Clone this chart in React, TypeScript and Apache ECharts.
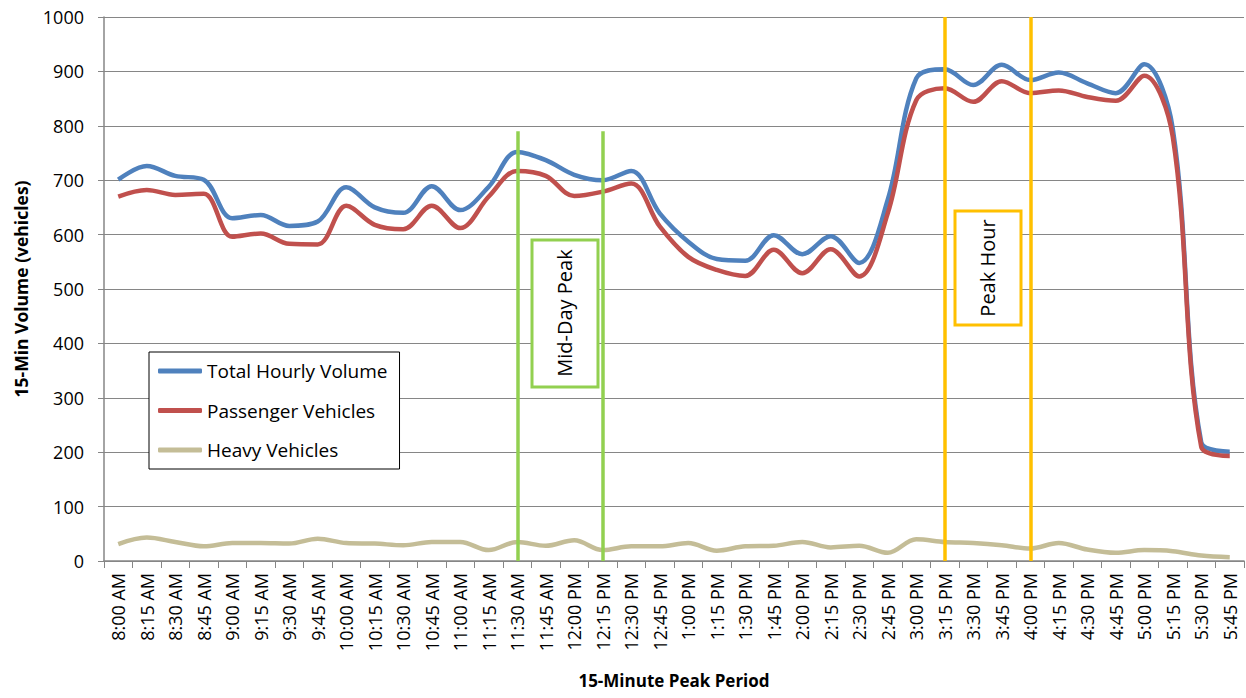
import React, { useEffect, useRef } from "react";
import * as echarts from "echarts";

const categories = [
  "8:00 AM", "8:15 AM", "8:30 AM", "8:45 AM", "9:00 AM", "9:15 AM", "9:30 AM", "9:45 AM",
  "10:00 AM", "10:15 AM", "10:30 AM", "10:45 AM", "11:00 AM", "11:15 AM", "11:30 AM", "11:45 AM",
  "12:00 PM", "12:15 PM", "12:30 PM", "12:45 PM", "1:00 PM", "1:15 PM", "1:30 PM", "1:45 PM",
  "2:00 PM", "2:15 PM", "2:30 PM", "2:45 PM", "3:00 PM", "3:15 PM", "3:30 PM", "3:45 PM",
  "4:00 PM", "4:15 PM", "4:30 PM", "4:45 PM", "5:00 PM", "5:15 PM", "5:30 PM", "5:45 PM",
];

const totalVolume = [
  701, 726, 708, 701, 630, 636, 616, 624, 687, 650, 640, 689, 645, 688, 752, 737,
  710, 700, 717, 639, 587, 555, 552, 599, 564, 597, 548, 664, 887, 904, 875, 912,
  884, 898, 878, 860, 913, 795, 218, 201,
];

const passengerVehicles = [
  670, 682, 673, 675, 596, 602, 583, 582, 653, 618, 610, 653, 612, 670, 717, 708,
  671, 679, 694, 615, 559, 535, 524, 572, 529, 573, 523, 639, 847, 869, 844, 882,
  860, 865, 853, 846, 892, 780, 210, 193,
];

const heavyVehicles = [
  31, 43, 35, 27, 33, 33, 32, 41, 33, 32, 29, 35, 35, 20, 35, 28,
  38, 20, 27, 27, 33, 19, 27, 28, 35, 25, 28, 15, 40, 35, 33, 29,
  23, 33, 21, 15, 20, 18, 10, 7,
];

const midDayPeak = ["11:30 AM", "12:15 PM"];
const peakHour = ["3:15 PM", "4:00 PM"];
const midDayTop = 790;
const peakHourTop = 1000;

const FONT = "'Open Sans', sans-serif";
const GRID = "#868686";
const GREEN = "#92D050";
const YELLOW = "#FFC000";
const SMOOTH = 0.35;

export default function App() {
  const ref = useRef<HTMLDivElement>(null);

  useEffect(() => {
    if (!ref.current) return;
    const chart = echarts.init(ref.current, null, { renderer: "svg" });

    const vLine = (cat: string, top: number, color: string) => [
      { coord: [cat, top], lineStyle: { color, width: 3.5, type: "solid" } },
      { coord: [cat, 0] },
    ];

    chart.setOption({
      animation: false,
      backgroundColor: "#ffffff",
      textStyle: { fontFamily: FONT },
      grid: { left: 104, right: 2, top: 17, bottom: 137, containLabel: false },
      legend: {
        orient: "vertical",
        left: 149,
        top: 352,
        padding: [9, 12, 9, 9],
        icon: "roundRect",
        itemWidth: 44,
        itemHeight: 5,
        itemGap: 19.5,
        backgroundColor: "#ffffff",
        borderColor: "#000000",
        borderWidth: 1,
        borderRadius: 0,
        textStyle: { fontFamily: FONT, fontSize: 19, color: "#000", lineHeight: 20 },
        data: ["Total Hourly Volume", "Passenger Vehicles", "Heavy Vehicles"],
      },
      xAxis: {
        type: "category",
        data: categories,
        boundaryGap: true,
        name: "15-Minute Peak Period",
        nameLocation: "middle",
        nameGap: 111,
        nameTextStyle: { fontFamily: FONT, fontSize: 17, fontWeight: "bold", color: "#000" },
        axisLine: { lineStyle: { color: GRID, width: 1.5 } },
        axisTick: { show: true, interval: 0, length: 7, lineStyle: { color: GRID } },
        axisLabel: {
          interval: 0,
          rotate: 90,
          margin: 12,
          fontFamily: FONT,
          fontSize: 18,
          color: "#000",
        },
        splitLine: { show: false },
      },
      yAxis: {
        type: "value",
        min: 0,
        max: 1000,
        interval: 100,
        name: "15-Min Volume (vehicles)",
        nameLocation: "middle",
        nameGap: 74,
        nameRotate: 90,
        nameTextStyle: { fontFamily: FONT, fontSize: 17.5, fontWeight: "bold", color: "#000" },
        axisLine: { show: true, lineStyle: { color: GRID, width: 1.5 } },
        axisTick: { show: true, length: 6, lineStyle: { color: GRID } },
        axisLabel: {
          margin: 20,
          fontFamily: FONT,
          fontSize: 18,
          color: "#000",
          formatter: (v: number) => String(v),
        },
        splitLine: { show: true, lineStyle: { color: GRID, width: 1 } },
      },
      series: [
        {
          name: "Total Hourly Volume",
          type: "line",
          data: totalVolume,
          smooth: SMOOTH,
          symbol: "none",
          lineStyle: { color: "#4F81BD", width: 4.5 },
          itemStyle: { color: "#4F81BD" },
        },
        {
          name: "Passenger Vehicles",
          type: "line",
          data: passengerVehicles,
          smooth: SMOOTH,
          symbol: "none",
          lineStyle: { color: "#C0504D", width: 4.5 },
          itemStyle: { color: "#C0504D" },
        },
        {
          name: "Heavy Vehicles",
          type: "line",
          data: heavyVehicles,
          smooth: SMOOTH,
          symbol: "none",
          lineStyle: { color: "#C4BD97", width: 4.5 },
          itemStyle: { color: "#C4BD97" },
          markLine: {
            silent: true,
            symbol: ["none", "none"],
            label: { show: false },
            z: 10,
            data: [
              vLine(midDayPeak[0], midDayTop, GREEN),
              vLine(midDayPeak[1], midDayTop, GREEN),
              vLine(peakHour[0], peakHourTop, YELLOW),
              vLine(peakHour[1], peakHourTop, YELLOW),
            ],
          },
        },
      ],
      graphic: [
        {
          type: "rect",
          z: 100,
          shape: { x: 532, y: 240, width: 66, height: 147 },
          style: { fill: "#ffffff", stroke: GREEN, lineWidth: 3 },
        },
        {
          type: "text",
          z: 101,
          x: 564,
          y: 313,
          rotation: Math.PI / 2,
          style: {
            text: "Mid-Day Peak",
            fontFamily: FONT,
            fontSize: 20,
            fill: "#000",
            align: "center",
            verticalAlign: "middle",
          },
        },
        {
          type: "rect",
          z: 100,
          shape: { x: 955, y: 211, width: 66, height: 114 },
          style: { fill: "#ffffff", stroke: YELLOW, lineWidth: 3 },
        },
        {
          type: "text",
          z: 101,
          x: 987,
          y: 268,
          rotation: Math.PI / 2,
          style: {
            text: "Peak Hour",
            fontFamily: FONT,
            fontSize: 20,
            fill: "#000",
            align: "center",
            verticalAlign: "middle",
          },
        },
      ],
    });

    return () => chart.dispose();
  }, []);

  return (
    <div
      ref={ref}
      style={{ position: "fixed", left: 0, top: 0, width: 1246, height: 698, background: "#fff" }}
    />
  );
}
